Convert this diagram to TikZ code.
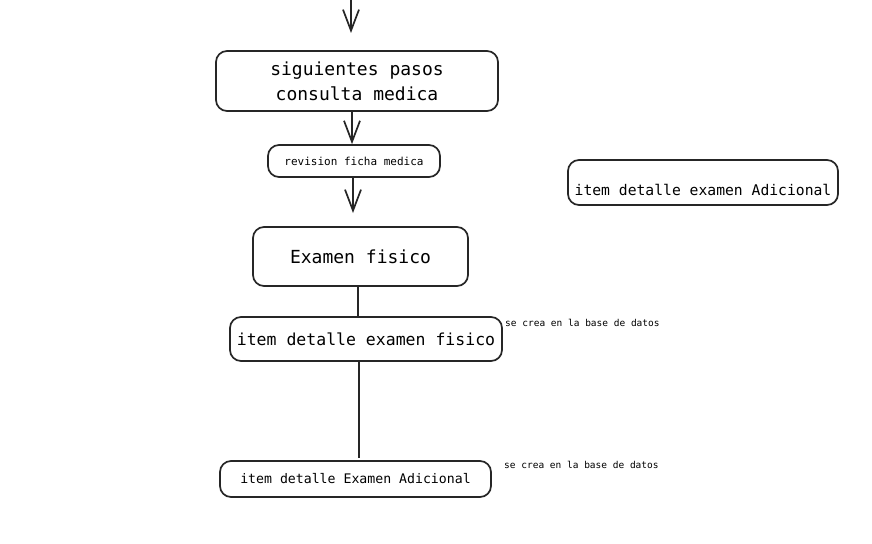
\documentclass[tikz,border=0pt]{standalone}
\usepackage{fontspec}
\setmonofont{DejaVu Sans Mono}
\usetikzlibrary{arrows.meta}
\begin{document}
\begin{tikzpicture}[x=1pt,y=-1pt,
  box/.style={draw=black!85,line width=1.7pt,rounded corners=11pt,inner sep=0pt,font=\ttfamily},
  link/.style={draw=black!85,line width=1.7pt},
  arr/.style={link,-{Straight Barb[length=21pt,width=16pt,line width=1.7pt]}},
  note/.style={font=\ttfamily\fontsize{9.5}{11}\selectfont,anchor=west,inner sep=0pt}]
\useasboundingbox[fill=white] (0,0) rectangle (872,543);
\node[box,minimum width=282pt,minimum height=60pt,align=center,font=\ttfamily\fontsize{18}{25}\selectfont] (b1) at (357,81) {siguientes pasos\\consulta medica};
\node[box,minimum width=172pt,minimum height=32pt,font=\ttfamily\fontsize{11}{13}\selectfont] (b2) at (354,161) {revision ficha medica};
\node[box,minimum width=215pt,minimum height=59pt,font=\ttfamily\fontsize{18}{22}\selectfont] (b3) at (360.5,256.5) {Examen fisico};
\node[box,minimum width=272pt,minimum height=44pt,font=\ttfamily\fontsize{16.5}{20}\selectfont] (b4) at (366,339) {item detalle examen fisico};
\node[box,minimum width=271pt,minimum height=36pt,font=\ttfamily\fontsize{13.2}{16}\selectfont] (b5) at (355.5,479) {item detalle Examen Adicional};
\node[box,minimum width=270pt,minimum height=45pt,font=\ttfamily\fontsize{14.7}{18}\selectfont,text height=30pt,text depth=4pt] (b6) at (703,182.5) {item detalle examen Adicional};
\node[note] (n1) at (505,323) {se crea en la base de datos};
\node[note] (n2) at (504,465) {se crea en la base de datos};
\coordinate (t0) at (351,0);
\coordinate (t1) at (351,33);
\coordinate (e2) at (353,213);
\coordinate (e4) at (359,458);
\draw[arr] (t0) -- (t1);
\draw[arr] (b1.south -| 352,0) -- (b2.north -| 352,0);
\draw[arr] (b2.south -| 353,0) -- (e2);
\draw[link] (b3.south -| 358,0) -- (b4.north -| 358,0);
\draw[link] (b4.south -| 359,0) -- (e4);
\end{tikzpicture}
\end{document}
